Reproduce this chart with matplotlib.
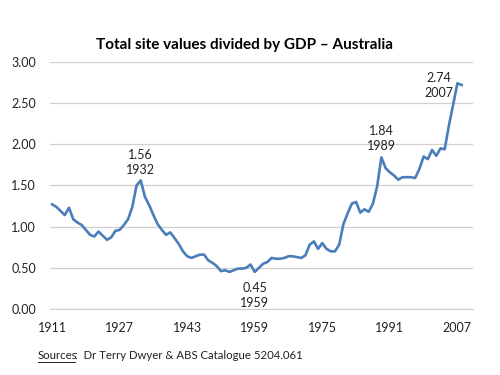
import matplotlib
matplotlib.use("Agg")
import matplotlib.pyplot as plt
import numpy as np

plt.rcParams["font.family"] = ["Lato", "DejaVu Sans"]

years = np.arange(1911, 2009)
values = [
    1.27, 1.24, 1.19, 1.14, 1.23, 1.09, 1.05, 1.02, 0.96, 0.90,  # 1911-1920
    0.88, 0.94, 0.89, 0.84, 0.87, 0.95, 0.96, 1.02, 1.09, 1.24,  # 1921-1930
    1.50, 1.56, 1.36, 1.26, 1.14, 1.03, 0.96, 0.90, 0.93, 0.86,  # 1931-1940
    0.79, 0.70, 0.64, 0.62, 0.64, 0.66, 0.66, 0.59, 0.56, 0.52,  # 1941-1950
    0.46, 0.47, 0.45, 0.47, 0.49, 0.49, 0.50, 0.54, 0.45, 0.50,  # 1951-1960
    0.55, 0.57, 0.62, 0.61, 0.61, 0.62, 0.64, 0.64, 0.63, 0.62,  # 1961-1970
    0.65, 0.78, 0.82, 0.73, 0.80, 0.73, 0.70, 0.70, 0.78, 1.03,  # 1971-1980
    1.16, 1.28, 1.30, 1.17, 1.21, 1.18, 1.28, 1.49, 1.84, 1.71,  # 1981-1990
    1.66, 1.62, 1.57, 1.60, 1.60, 1.60, 1.59, 1.70, 1.85, 1.82,  # 1991-2000
    1.93, 1.86, 1.95, 1.94, 2.23, 2.48, 2.74, 2.72,              # 2001-2008
]
tick_years = [1911, 1927, 1943, 1959, 1975, 1991, 2007]
y_ticks = [0.0, 0.5, 1.0, 1.5, 2.0, 2.5, 3.0]
callouts = [(1932, 1.56), (1959, 0.45), (1989, 1.84), (2007, 2.74)]

fig = plt.figure(figsize=(5, 3.75), dpi=100)
ax = fig.add_axes([0.10, 0.176, 0.846, 0.659])

ax.plot(years, values, color="#4A7EBB", linewidth=1.9, solid_joinstyle="round")

ax.set_xlim(1910.5, 2010.7)
ax.set_ylim(0, 3)
ax.set_xticks(tick_years)
ax.set_xticklabels([str(y) for y in tick_years])
ax.set_yticks(y_ticks)
ax.set_yticklabels([f"{v:.2f}" for v in y_ticks])
ax.tick_params(length=0, labelsize=9, colors="#222222")
ax.tick_params(axis="x", pad=9)
ax.tick_params(axis="y", pad=10)
ax.grid(axis="y", color="#D0D0D0", linewidth=0.9)
ax.set_axisbelow(True)
for side in ["left", "right", "top"]:
    ax.spines[side].set_visible(False)
ax.spines["bottom"].set_color("#D0D0D0")

# data callouts: value on top, year below
offsets = {1932: (0, 3), 1959: (0, -27), 1989: (0, 4), 2007: (-13, -11)}
for yr, val in callouts:
    dx, dy = offsets[yr]
    ax.annotate(f"{val:.2f}\n{yr}", xy=(yr, val), xytext=(dx, dy),
                textcoords="offset points", ha="center", va="bottom",
                fontsize=9, color="#222222", linespacing=1.3)

fig.text(0.49, 0.88, "Total site values divided by GDP \u2013 Australia",
         ha="center", va="center", fontsize=11, fontweight="bold")

# source line, with "Sources" underlined
src = fig.text(0.076, 0.042, "Sources", fontsize=8.2, ha="left",
               va="baseline", color="#222222")
fig.canvas.draw()
bb = src.get_window_extent().transformed(fig.transFigure.inverted())
fig.text(bb.x1 - 0.005, 0.042, ":  Dr Terry Dwyer & ABS Catalogue 5204.061",
         fontsize=8.2, ha="left", va="baseline", color="#222222")
fig.add_artist(plt.Line2D([bb.x0, bb.x1 - 0.006], [0.035, 0.035],
                          color="#222222", linewidth=0.7))

fig.savefig("out.png", dpi=100)
